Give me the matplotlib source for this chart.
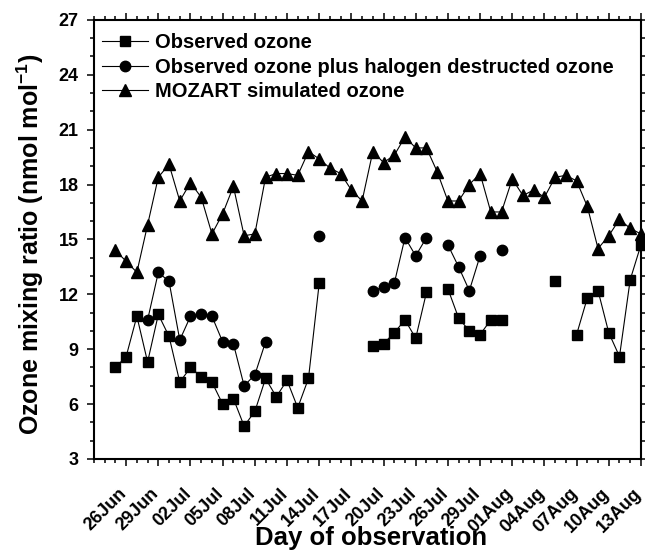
import numpy as np
import pandas as pd
import matplotlib
matplotlib.use('Agg')
import matplotlib.pyplot as plt
import matplotlib.dates as mdates
import matplotlib.transforms as mtransforms

plt.rcParams['font.family'] = ['Liberation Sans', 'DejaVu Sans']
plt.rcParams['font.weight'] = 'bold'
plt.rcParams['mathtext.fontset'] = 'custom'
plt.rcParams['mathtext.rm'] = 'Liberation Sans:bold'
plt.rcParams['mathtext.bf'] = 'Liberation Sans:bold'
plt.rcParams['mathtext.default'] = 'bf'

####################
## Data           ##
####################
# one value per day, 25 Jun -> 13 Aug (nan = no data)
dates = pd.date_range('2000-06-25', '2000-08-13', freq='D')
nan = np.nan

observed = [8.0, 8.6, 10.8, 8.3, 10.9, 9.7, 7.2, 8.0, 7.5, 7.2,
            6.0, 6.3, 4.8, 5.6, 7.4, 6.4, 7.3, 5.8, 7.4, 12.6,
            nan, nan, nan, nan, 9.2, 9.3, 9.9, 10.6, 9.6, 12.1,
            nan, 12.3, 10.7, 10.0, 9.8, 10.6, 10.6, nan, nan, nan,
            nan, 12.7, nan, 9.8, 11.8, 12.2, 9.9, 8.6, 12.8, 14.7]

observed_plus_halogen = [nan, nan, nan, 10.6, 13.2, 12.7, 9.5, 10.8, 10.9, 10.8,
                         9.4, 9.3, 7.0, 7.6, 9.4, nan, nan, nan, nan, 15.2,
                         nan, nan, nan, nan, 12.2, 12.4, 12.6, 15.1, 14.1, 15.1,
                         nan, 14.7, 13.5, 12.2, 14.1, nan, 14.4, nan, nan, nan,
                         nan, nan, nan, nan, nan, nan, nan, nan, nan, nan]

mozart = [14.4, 13.8, 13.2, 15.8, 18.4, 19.1, 17.1, 18.1, 17.3, 15.3,
          16.4, 17.9, 15.2, 15.3, 18.4, 18.6, 18.6, 18.5, 19.8, 19.4,
          18.9, 18.6, 17.7, 17.1, 19.8, 19.2, 19.6, 20.6, 20.0, 20.0,
          18.7, 17.1, 17.1, 18.0, 18.6, 16.5, 16.5, 18.3, 17.4, 17.7,
          17.3, 18.4, 18.5, 18.2, 16.8, 14.5, 15.2, 16.1, 15.6, 15.3]

labels = ['Observed ozone',
          'Observed ozone plus halogen destructed ozone',
          'MOZART simulated ozone']

tick_dates = pd.date_range('2000-06-26', '2000-08-13', freq='3D')
x_range = (pd.Timestamp('2000-06-23'), pd.Timestamp('2000-08-13'))

####################
## Plot           ##
####################
fig = plt.figure(figsize=(6.45, 5.51), dpi=100)
ax = fig.add_axes([0.1457, 0.167, 0.848, 0.797])

style = dict(color='black', linewidth=0.8, clip_on=False)
ax.plot(dates, observed, marker='s', markersize=7, label=labels[0], **style)
ax.plot(dates, observed_plus_halogen, marker='o', markersize=7.5, label=labels[1], **style)
ax.plot(dates, mozart, marker='^', markersize=8, label=labels[2], **style)

ax.set_xlim(x_range)
ax.set_ylim(3, 27)
ax.set_yticks(np.arange(3, 28, 3))
ax.yaxis.set_minor_locator(matplotlib.ticker.MultipleLocator(1))
ax.set_xticks(tick_dates)
ax.xaxis.set_minor_locator(mdates.DayLocator())
ax.xaxis.set_major_formatter(mdates.DateFormatter('%d%b'))

for s in ax.spines.values():
	s.set_linewidth(1.5)
ax.tick_params(which='both', direction='out', top=True, right=True, width=1.1)
ax.tick_params(which='major', length=5)
ax.tick_params(which='minor', length=3)
ax.tick_params(axis='y', labelsize=13, pad=6)
ax.tick_params(axis='x', labelsize=13, pad=14)

offset = mtransforms.ScaledTranslation(3/72., 0, fig.dpi_scale_trans)
for lab in ax.get_xticklabels():
	lab.set_rotation(45)
	lab.set_ha('right')
	lab.set_va('top')
	lab.set_transform(lab.get_transform() + offset)

ax.set_xlabel('Day of observation', fontsize=18.5, fontweight='bold')
ax.set_ylabel(r'Ozone mixing ratio (nmol mol$^{-1}$)', fontsize=18, fontweight='bold')
ax.xaxis.set_label_coords(0.506, -0.153)
ax.yaxis.set_label_coords(-0.088, 0.49)

ax.legend(loc='upper left', bbox_to_anchor=(0.0146, 0.969), frameon=False,
		  fontsize=14.5, borderaxespad=0, borderpad=0, handlelength=2.3,
		  handletextpad=0.35, labelspacing=0.26)

fig.savefig('out.png', dpi=100)
